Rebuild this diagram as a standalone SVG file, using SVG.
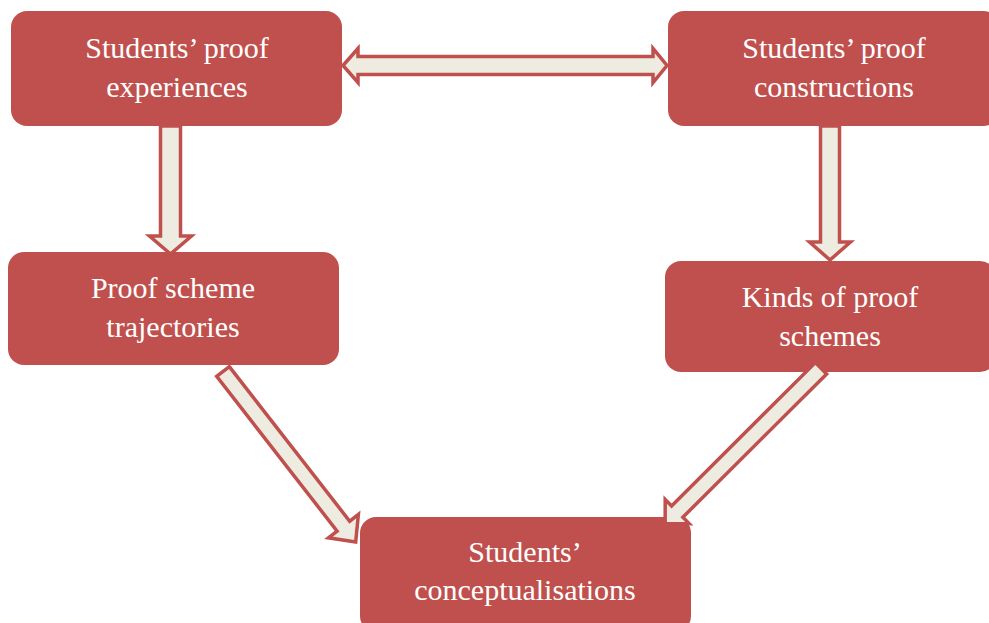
<svg xmlns="http://www.w3.org/2000/svg" width="989" height="623" viewBox="0 0 989 623">
  <style>
    .box { fill: #C0504D; }
    .label { font-family: "Liberation Serif", "Times New Roman", serif; font-size: 30px; fill: #FFFFFF; text-anchor: middle; }
    .arrow { fill: #EEECE1; stroke: #C0504D; stroke-width: 3.5; stroke-linejoin: miter; }
  </style>
  <rect width="989" height="623" fill="#FFFFFF"/>

  <g id="node-experiences">
    <rect class="box" x="11" y="11" width="331" height="115" rx="16"/>
    <text class="label" x="177" y="58">Students’ proof</text>
    <text class="label" x="177" y="97">experiences</text>
  </g>

  <g id="node-constructions">
    <rect class="box" x="668" y="11" width="331" height="115" rx="16"/>
    <text class="label" x="834" y="58">Students’ proof</text>
    <text class="label" x="834" y="97">constructions</text>
  </g>

  <g id="node-trajectories">
    <rect class="box" x="8" y="252" width="331" height="113" rx="16"/>
    <text class="label" x="173" y="298">Proof scheme</text>
    <text class="label" x="173" y="337">trajectories</text>
  </g>

  <g id="node-kinds">
    <rect class="box" x="665" y="261" width="331" height="111" rx="16"/>
    <text class="label" x="830" y="307">Kinds of proof</text>
    <text class="label" x="830" y="346">schemes</text>
  </g>

  <g id="node-conceptualisations">
    <rect class="box" x="360" y="517" width="331" height="115" rx="16"/>
    <text class="label" x="525" y="562">Students’</text>
    <text class="label" x="525" y="600">conceptualisations</text>
  </g>

  <g id="connectors">
    <!-- two-headed block arrow between the top nodes -->
    <path class="arrow" d="M343,65.5 L358,48.5 L358,56.5 L653,56.5 L653,48.5 L667,65.5 L653,82.5 L653,74.5 L358,74.5 L358,82.5 Z"/>
    <!-- left column, downward -->
    <path class="arrow" d="M160.5,126 L180.5,126 L180.5,236 L191.5,236 L170.5,254 L149.5,236 L160.5,236 Z"/>
    <!-- right column, downward -->
    <path class="arrow" d="M820.5,126 L839.5,126 L839.5,242 L850.5,242 L830,260 L809.5,242 L820.5,242 Z"/>
    <!-- diagonals into the bottom node -->
    <path class="arrow" transform="translate(223,371.5) rotate(52.1)" d="M0,-8 L196,-8 L196,-19 L216,0 L196,19 L196,8 L0,8 Z"/>
    <path class="arrow" transform="translate(821,368.3) rotate(135.1)" d="M0,-8 L203,-8 L203,-17 L220,0 L203,17 L203,8 L0,8 Z"/>
  </g>
</svg>
